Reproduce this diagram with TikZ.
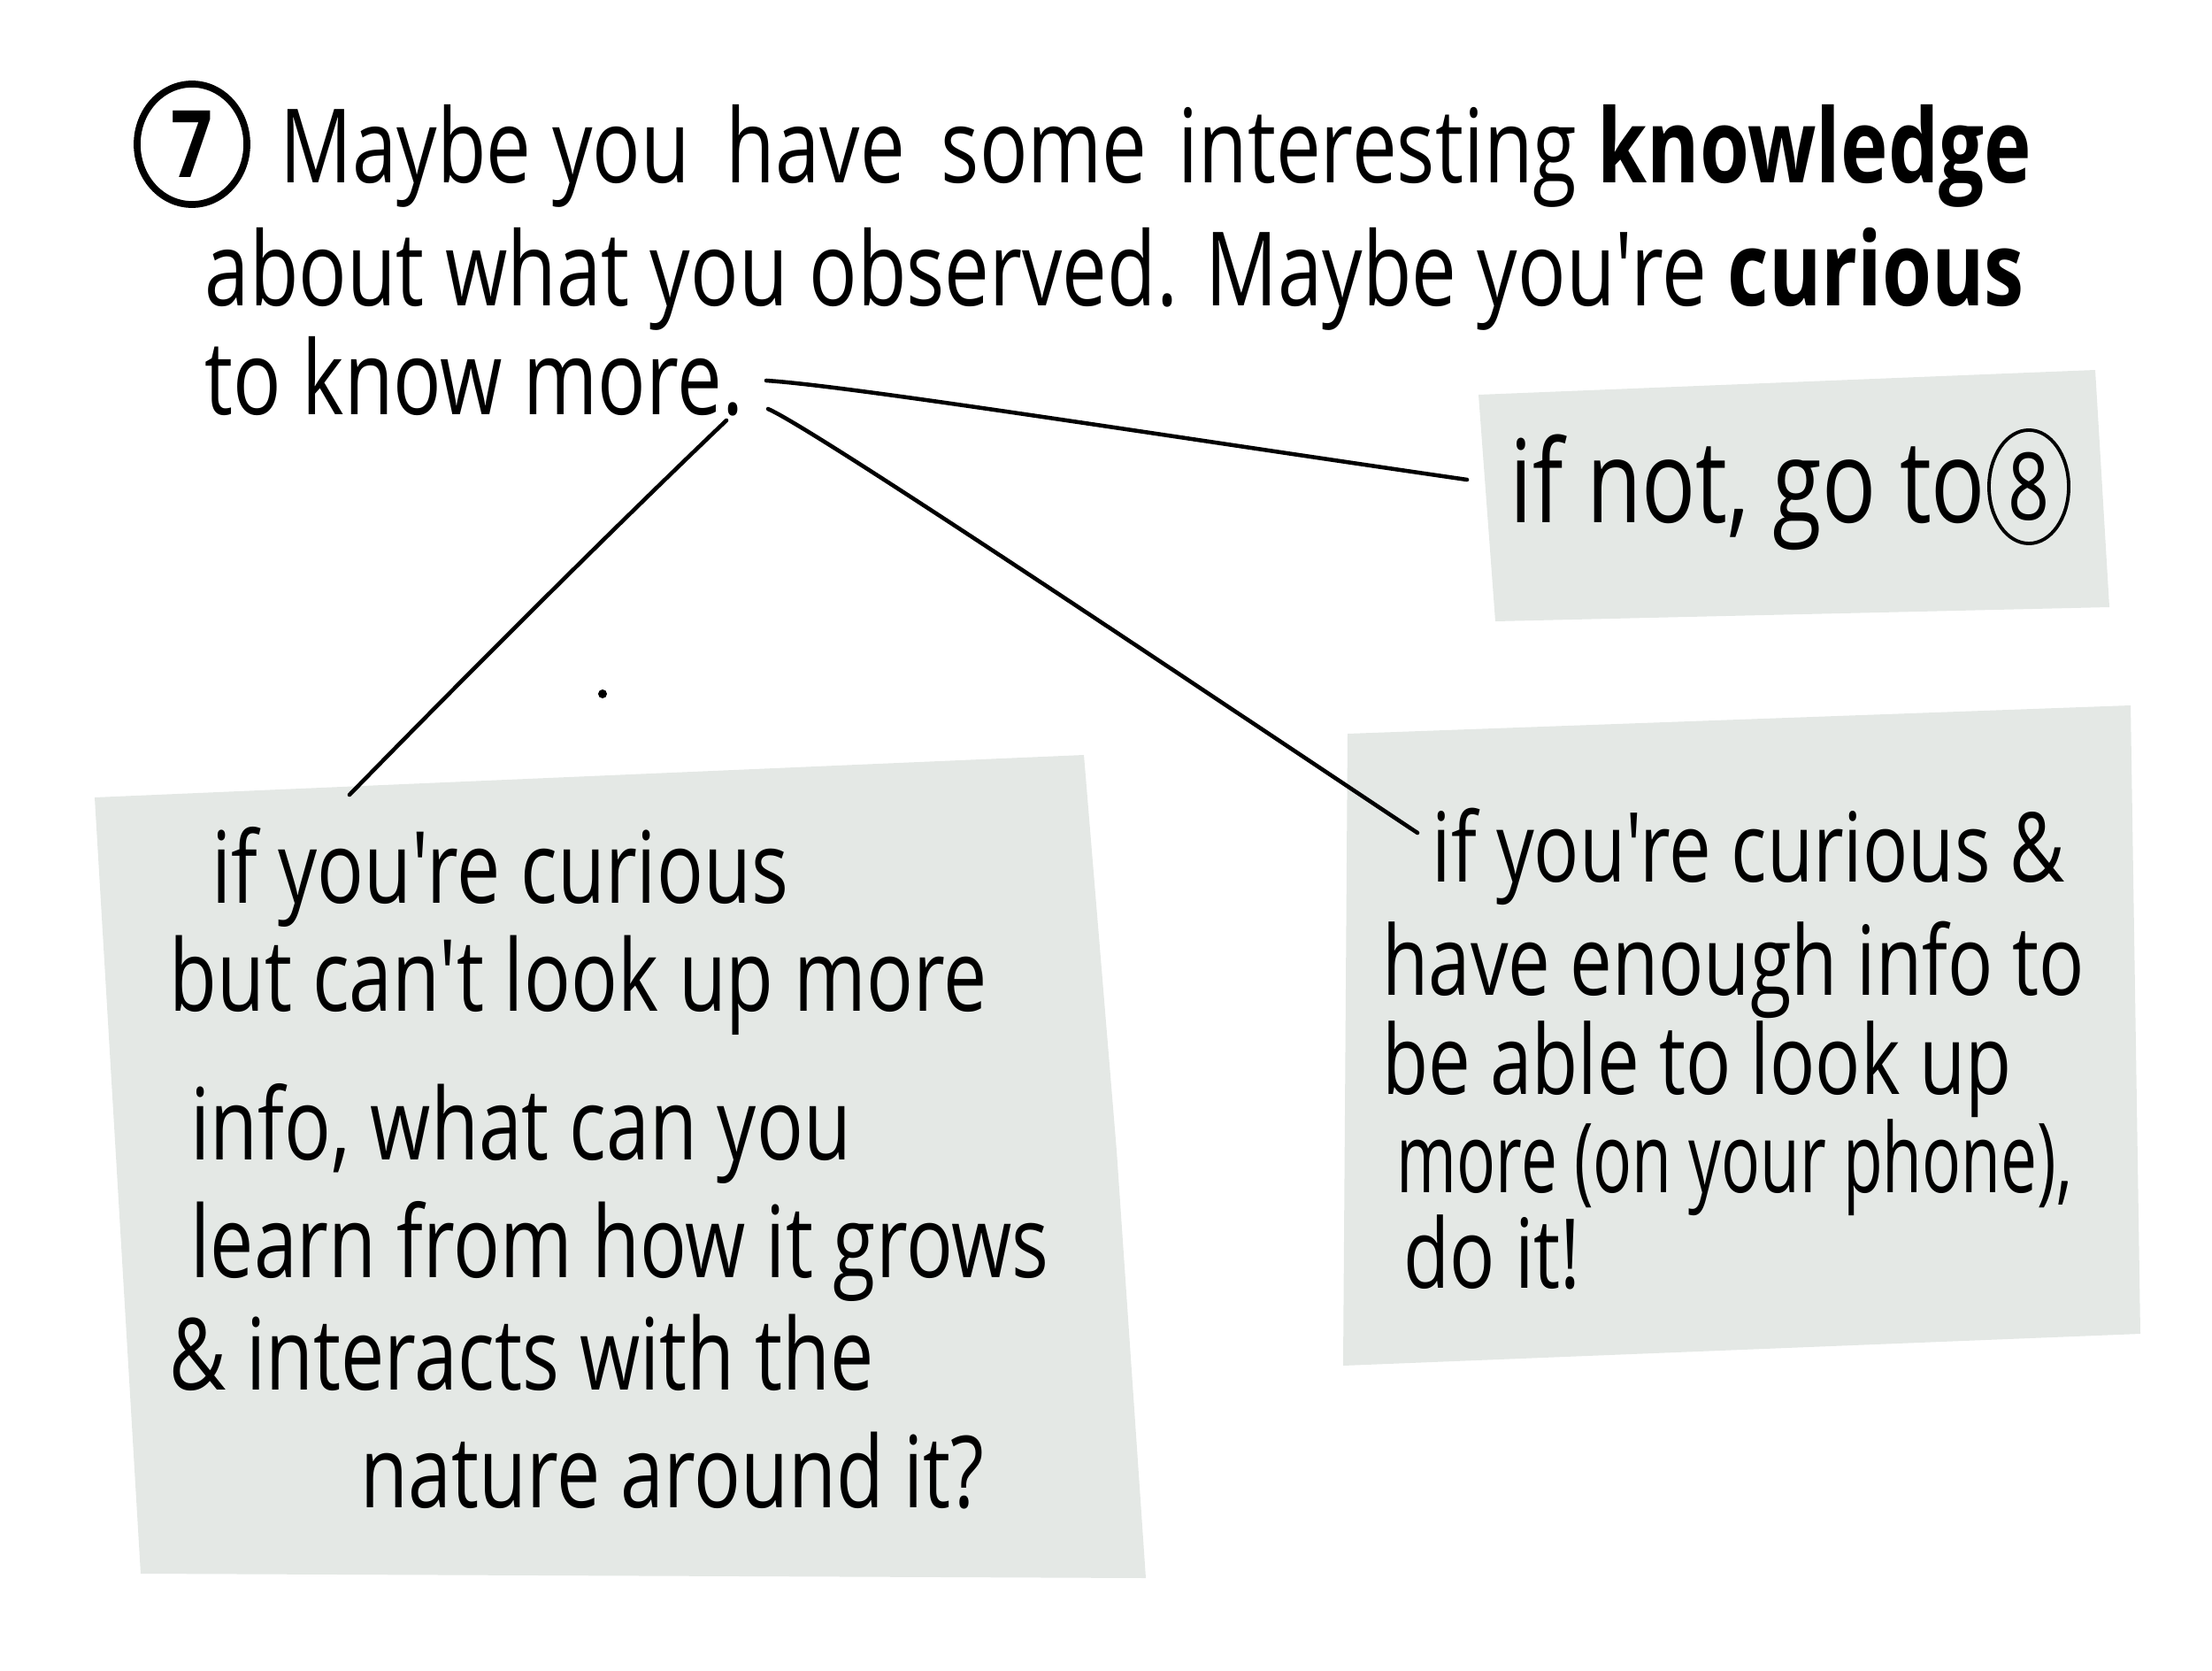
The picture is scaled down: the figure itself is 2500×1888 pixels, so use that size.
\documentclass[tikz,border=0pt]{standalone}
\usepackage{fontspec}
\setmainfont{Open Sans}
\newfontfamily\handfont[FakeStretch=0.78]{Open Sans}
\newfontfamily\handnarrow[FakeStretch=0.67]{Open Sans}
\usetikzlibrary{shapes.geometric}
\definecolor{cardgray}{RGB}{228,232,229}
\tikzset{
  hand/.style={font=\handfont\fontsize{33}{40}\selectfont,anchor=base west,inner sep=0pt},
  cardtext/.style={font=\handfont\fontsize{32}{38}\selectfont,anchor=base west,inner sep=0pt},
  cardsmall/.style={font=\handfont\fontsize{31}{36}\selectfont,anchor=base west,inner sep=0pt},
  card/.style={fill=cardgray},
  link/.style={line width=1.3pt,line cap=round,line join=round},
  numring/.style={draw,ellipse,inner sep=0pt},
}
\begin{document}
\begin{tikzpicture}[x=0.01cm,y=-0.01cm]
\useasboundingbox (0,0) rectangle (2500,1888);
% grey cards
\fill[card] (1671,446) -- (2368,418) -- (2384,686) -- (1690,702) -- cycle;
\fill[card] (1523,829) -- (2408,797) -- (2419,1507) -- (1518,1543) -- cycle;
\fill[card] (107,901) -- (1225,853) -- (1262,1300) -- (1295,1783) -- (159,1778) -- cycle;
% question
\node[numring,line width=2.2pt,minimum width=1.24cm,minimum height=1.36cm,
  font=\handfont\fontsize{30}{30}\selectfont\bfseries] (seven) at (217,163) {7};
\node[hand] (q1) at (316,207) {Maybe you\hspace{0.15em} have\hspace{0.15em} some\hspace{0.1em} interesting \textbf{knowledge}};
\node[hand] (q2) at (231,345) {about what you observed. Maybe you're \textbf{curious}};
\node[hand] (q3) at (231,468) {to know more.};
% top right card
\node[hand,font=\handfont\fontsize{37}{40}\selectfont] (no) at (1706,590) {if not, go to};
\node[numring,line width=1.1pt,minimum width=0.9cm,minimum height=1.28cm,
  font=\handfont\fontsize{30}{30}\selectfont] (eight) at (2293,550) {8};
% bottom right card
\node[cardsmall] (r1) at (1618,996) {if you're curious \&};
\node[cardsmall] (r2) at (1562,1124) {have enough info to};
\node[cardsmall] (r3) at (1562,1236) {be able to look up};
\node[cardsmall,font=\handnarrow\fontsize{31}{36}\selectfont] (r4) at (1578,1347) {more (on your phone),};
\node[cardsmall] (r5) at (1586,1455) {do it!};
% bottom left card
\node[cardtext] (l1) at (239,1020) {if you're curious};
\node[cardtext] (l2) at (191,1142) {but can't look up more};
\node[cardtext] (l3) at (215,1310) {info, what can you};
\node[cardtext] (l4) at (215,1443) {learn from how it grows};
\node[cardtext] (l5) at (191,1570) {\& interacts with the};
\node[cardtext] (l6) at (407,1703) {nature around it?};
% connectors
\coordinate (outA) at (866,430); \coordinate (inA) at (1658,542);
\coordinate (outB) at (868,462); \coordinate (inB) at (1602,941);
\coordinate (outC) at (821,475); \coordinate (inC) at (395,898);
\draw[link] (outA) .. controls (960,436) and (1300,490) .. (inA);
\draw[link] (outB) .. controls (920,485) and (1300,740) .. (inB);
\draw[link] (outC) .. controls (690,600) and (520,770) .. (inC);
\fill (681,784) circle (5);
\end{tikzpicture}
\end{document}
